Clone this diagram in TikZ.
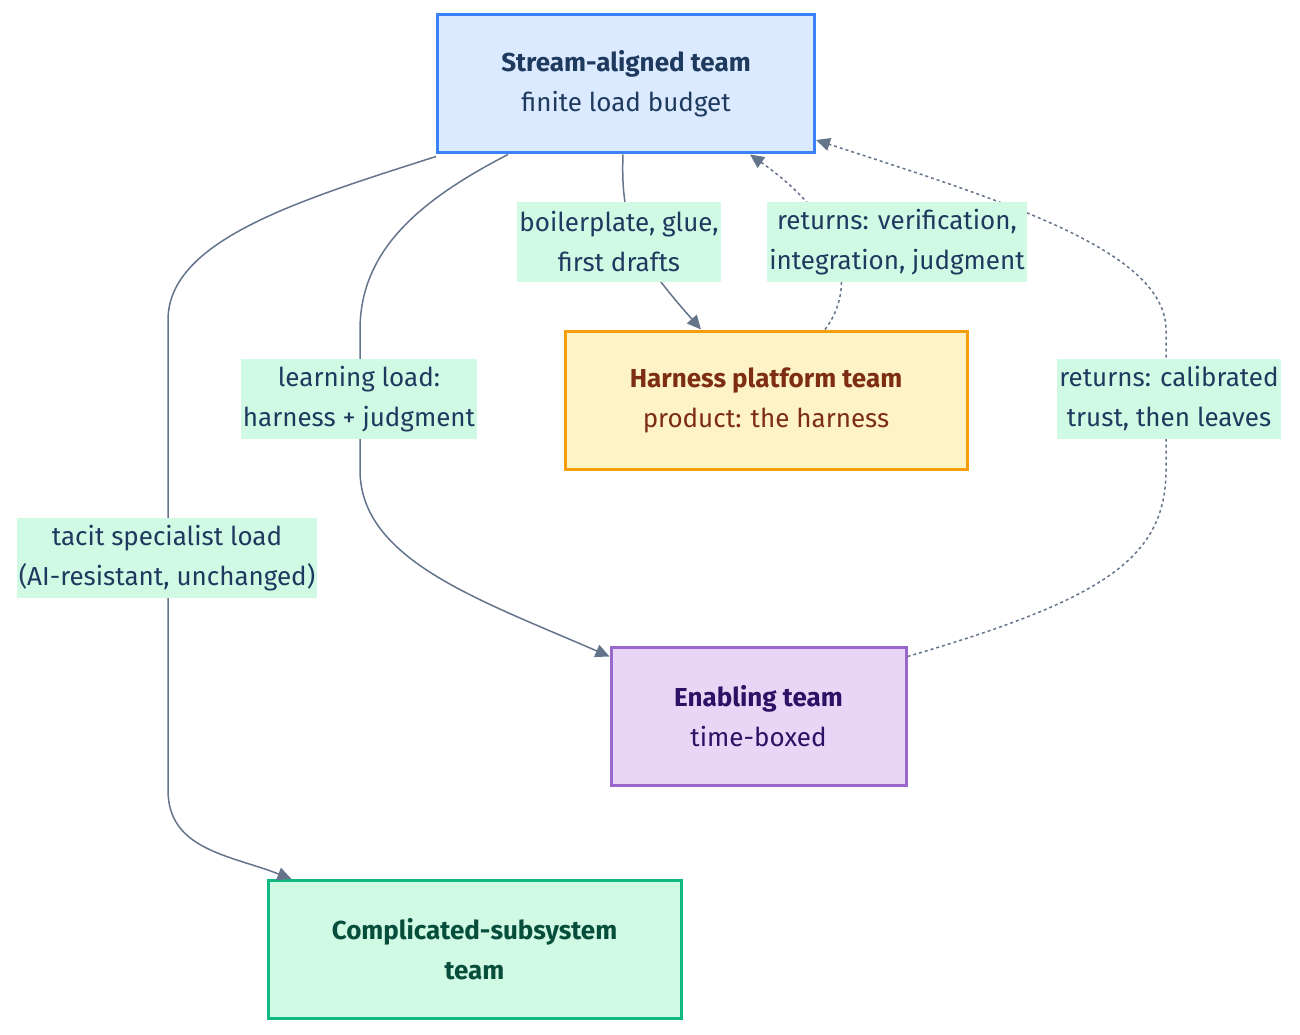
\documentclass[tikz,border=0pt]{standalone}
\usepackage{fontspec}
\setmainfont{Fira Sans}
\usetikzlibrary{arrows.meta}
\definecolor{streamfill}{HTML}{DBEAFE}
\definecolor{streamdraw}{HTML}{3B82F6}
\definecolor{streamtext}{HTML}{1E3A5F}
\definecolor{harnessfill}{HTML}{FEF3C7}
\definecolor{harnessdraw}{HTML}{F59E0B}
\definecolor{harnesstext}{HTML}{7C2D12}
\definecolor{enablefill}{HTML}{E9D5F5}
\definecolor{enabledraw}{HTML}{9966CC}
\definecolor{enabletext}{HTML}{2E1065}
\definecolor{compfill}{HTML}{D1FAE5}
\definecolor{compdraw}{HTML}{10B981}
\definecolor{comptext}{HTML}{064E3B}
\definecolor{edgegray}{HTML}{64748B}

\begin{document}
\begin{tikzpicture}[x=1pt,y=-1pt,
  team/.style={draw,line width=3pt,align=center,minimum height=138pt,
    font={\fontsize{26}{40}\selectfont}},
  lbl/.style={fill=compfill,text=streamtext,align=center,inner xsep=2pt,
    minimum height=80pt,font={\fontsize{26}{40}\selectfont}},
  edge/.style={draw=edgegray,line width=1.5pt,-{Triangle[length=14pt,width=13pt]}},
  back/.style={edge,dash pattern=on 3pt off 3pt}]
\useasboundingbox (0,0) rectangle (1300,1035);

% teams
\node[team,fill=streamfill,draw=streamdraw,text=streamtext,minimum width=377pt] (stream) at (626,84) {\textbf{Stream-aligned team}\\finite load budget};
\node[team,fill=harnessfill,draw=harnessdraw,text=harnesstext,minimum width=402pt] (harness) at (766,400) {\textbf{Harness platform team}\\product: the harness};
\node[team,fill=enablefill,draw=enabledraw,text=enabletext,minimum width=295pt] (enabling) at (758.5,716) {\textbf{Enabling team}\\time-boxed};
\node[team,fill=compfill,draw=compdraw,text=comptext,minimum width=413pt] (comp) at (474.5,949.5) {\textbf{Complicated-subsystem}\\\textbf{team}};

% connectors
\draw[edge] ([yshift=-2pt]stream.south west) .. controls (300,200) and (168,240) .. (168,320) -- (168,790) .. controls (168,850) and (230,855) .. ([xshift=25pt]comp.north west);
\draw[edge] ([xshift=-118pt]stream.south) .. controls (420,200) and (360,250) .. (360,330) -- (360,470) .. controls (360,560) and (480,600) .. ([yshift=-11pt]enabling.north west);
\draw[edge] ([xshift=-3pt]stream.south) .. controls (620,230) and (640,260) .. ([xshift=-65pt]harness.north);
\draw[back] ([xshift=59pt]harness.north) .. controls (855,290) and (850,225) .. ([xshift=124pt]stream.south);
\draw[back] ([yshift=-11pt]enabling.north east) .. controls (1100,600) and (1166,560) .. (1166,470) -- (1166,330) .. controls (1166,250) and (1000,200) .. ([yshift=-56pt]stream.east);

% labels
\node[lbl] (glue) at (619,242) {boilerplate, glue,\\first drafts};
\node[lbl] (verify) at (897,242) {returns: verification,\\integration, judgment};
\node[lbl] (learn) at (359,399) {learning load:\\harness + judgment};
\node[lbl] (trust) at (1169,399) {returns: calibrated\\trust, then leaves};
\node[lbl] (tacit) at (167,558) {tacit specialist load\\(AI-resistant, unchanged)};
\end{tikzpicture}
\end{document}
